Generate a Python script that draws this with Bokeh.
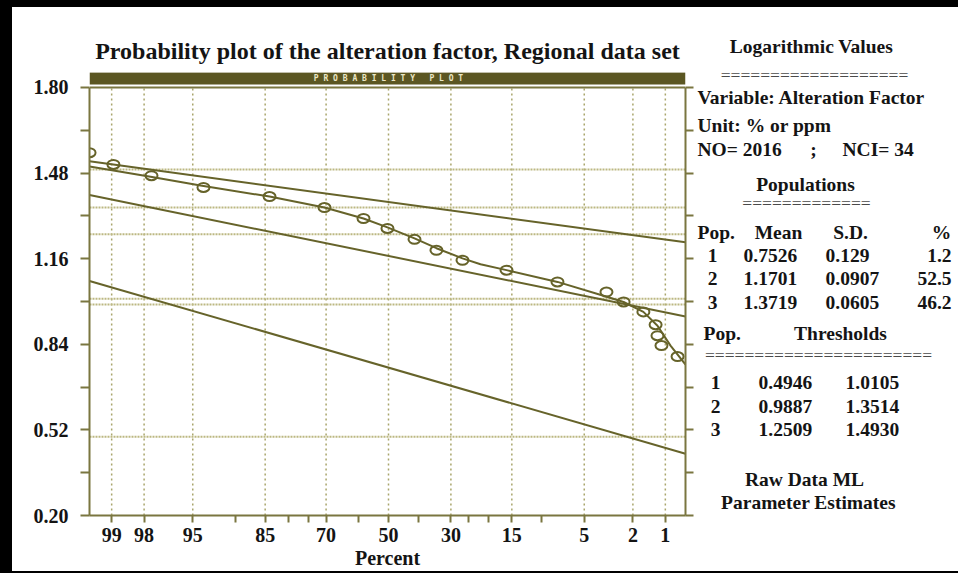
from statistics import NormalDist

from bokeh.embed import file_html
from bokeh.layouts import column, row
from bokeh.models import (CustomJSTickFormatter, Div, FixedTicker, Label,
                          LinearAxis, PrintfTickFormatter, Range1d, Span)
from bokeh.plotting import figure
from bokeh.resources import INLINE

# ---------------------------------------------------------------------------
# Data: alteration factor (log values), regional data set
# ---------------------------------------------------------------------------
tick_pct = [99, 98, 95, 85, 70, 50, 30, 15, 5, 2, 1]
minor_pct = [90, 80, 75, 60, 40, 25, 20, 10]
y_major = [0.20, 0.52, 0.84, 1.16, 1.48, 1.80]
y_minor = [0.36, 0.68, 1.00, 1.32, 1.64]

pop_id = [1, 2, 3]
pop_mean = [0.7526, 1.1701, 1.3719]
pop_sd = [0.129, 0.0907, 0.0605]
pop_share = [1.2, 52.5, 46.2]
thr_low = [0.4946, 0.9887, 1.2509]
thr_high = [1.0105, 1.3514, 1.4930]

n_obs = 2016
n_class = 34

# cumulative percentages of the class intervals
obs_pct = [99.40, 98.96, 97.68, 94.00, 84.13, 70.47, 58.32, 50.34, 41.35, 34.35,
           26.70, 16.06, 7.78, 3.35, 2.41, 1.61, 1.24, 1.19, 1.09, 0.757]
obs_val = [1.556, 1.512, 1.470, 1.426, 1.392, 1.351, 1.310, 1.273, 1.232, 1.191,
           1.154, 1.117, 1.073, 1.035, 0.998, 0.961, 0.913, 0.872, 0.835, 0.794]

# fitted mixture curve
mix_pct = [99.40, 97.72, 94.29, 84.13, 70.47, 58.32, 50.34, 41.35, 34.35, 26.70,
           21.97, 16.06, 7.78, 3.54, 2.41, 1.61, 1.19, 0.89, 0.628]
mix_val = [1.504, 1.466, 1.433, 1.392, 1.351, 1.310, 1.277, 1.236, 1.199, 1.161,
           1.139, 1.117, 1.073, 1.021, 0.998, 0.961, 0.909, 0.835, 0.764]

# ---------------------------------------------------------------------------
# Probability axis: percentages are placed at their normal scores
# ---------------------------------------------------------------------------
ND = NormalDist()


def prob(p):
    return ND.inv_cdf(p / 100.0)


def X(px):
    """page x (pixels) -> probability-axis coordinate"""
    return (388.0 - px) / 119.0


def Y(py):
    """page y (pixels) -> value-axis coordinate"""
    return 0.2 + (518.0 - py) * 1.6 / 431.0


OLIVE = "#66632a"
AXIS = "#7a7640"
GRID = "#a9a56c"
THR = "#bcb882"
BAR = "#5b5622"
INK = "#141414"
SERIF = "Liberation Serif"
NBSP = "\u00a0"

x_lo, x_hi = X(89), X(685)

p = figure(width=683, height=564, output_backend="svg", toolbar_location=None,
           x_range=Range1d(x_lo, x_hi), y_range=Range1d(0.2, Y(72)),
           min_border_left=77, min_border_right=10, min_border_top=65,
           min_border_bottom=53,
           title="Probability plot of the alteration factor, Regional data set")
p.frame_align = False
p.outline_line_color = None
p.background_fill_color = "white"
p.border_fill_color = "white"
p.xgrid.visible = False
p.ygrid.visible = False

p.title.align = "center"
p.title.text_font = SERIF
p.title.text_font_size = "24px"
p.title.text_font_style = "bold"
p.title.text_color = INK
p.title.standoff = 18

# header band above the frame
p.quad(left=x_lo, right=x_hi, top=Y(71.7), bottom=Y(84), fill_color=BAR,
       line_color=None)
band_text = NBSP.join("PROBABILITY") + NBSP * 3 + NBSP.join("PLOT")
p.add_layout(Label(x=X(388), y=Y(77.8), text=band_text,
                   text_font="DejaVu Sans Mono", text_font_size="8px",
                   text_font_style="bold", text_color="#ebe7c6",
                   text_align="center", text_baseline="middle"))

# x axis (percent)
tick_x = [prob(v) for v in tick_pct]
minor_x = [prob(v) for v in minor_pct]
xa = p.xaxis[0]
xa.ticker = FixedTicker(ticks=tick_x, minor_ticks=minor_x)
xa.formatter = CustomJSTickFormatter(
    args=dict(pos=tick_x, names=[str(v) for v in tick_pct]),
    code="""
    let best = 0;
    for (let i = 0; i < pos.length; i++) {
        if (Math.abs(pos[i] - tick) < Math.abs(pos[best] - tick)) best = i;
    }
    return names[best];
""")
xa.axis_label = "Percent"
xa.axis_label_text_font = SERIF
xa.axis_label_text_font_size = "20px"
xa.axis_label_text_font_style = "bold"
xa.axis_label_text_color = INK
xa.axis_label_standoff = 2

# y axes
ya = p.yaxis[0]
ya.ticker = FixedTicker(ticks=y_major, minor_ticks=y_minor)
ya.formatter = PrintfTickFormatter(format="%.2f")
ya.bounds = (0.2, 1.8)
ra = LinearAxis(ticker=FixedTicker(ticks=y_major + y_minor), bounds=(0.2, 1.8))
p.add_layout(ra, "right")

for ax in (xa, ya, ra):
    ax.axis_line_color = AXIS
    ax.axis_line_width = 2
    ax.major_tick_line_color = AXIS
    ax.minor_tick_line_color = AXIS
    ax.major_tick_line_width = 2
    ax.minor_tick_line_width = 2
    ax.major_tick_in = 0
    ax.minor_tick_in = 0
    ax.major_label_text_font = SERIF
    ax.major_label_text_font_style = "bold"
    ax.major_label_text_font_size = "20px"
    ax.major_label_text_color = INK
xa.major_tick_out = 7
xa.minor_tick_out = 7
xa.major_label_standoff = 5
ya.major_tick_out = 9
ya.minor_tick_out = 9
ya.major_label_standoff = 12
ra.major_tick_out = 8
ra.major_label_text_font_size = "0px"
ra.major_label_text_alpha = 0

# top edge of the frame
p.add_layout(Span(location=1.8, dimension="width", line_color=AXIS, line_width=2))

# dotted percent grid
p.segment(x0=tick_x, y0=0.2, x1=tick_x, y1=1.8, line_color=GRID,
          line_width=1.5, line_dash="2 3")

# threshold lines
thr = thr_low + thr_high
p.segment(x0=x_lo, y0=thr, x1=x_hi, y1=thr, line_color=THR, line_width=2,
          line_dash="2 1")

# population lines: value = mean + sd * normal score
for m, s in zip(pop_mean, pop_sd):
    p.line([x_lo, x_hi], [m + s * x_lo, m + s * x_hi], line_color=OLIVE,
           line_width=2)

# mixture curve and class-interval points
p.line([prob(v) for v in mix_pct], mix_val, line_color=OLIVE, line_width=2)
p.ellipse(x=[prob(v) for v in obs_pct], y=obs_val, width=12, height=9,
          width_units="screen", height_units="screen", fill_color=None,
          line_color=OLIVE, line_width=2)

# ---------------------------------------------------------------------------
# Side panel with the parameter estimates (coordinates in page pixels)
# ---------------------------------------------------------------------------
q = figure(width=263, height=564, output_backend="svg", toolbar_location=None,
           x_range=Range1d(695, 958), y_range=Range1d(571, 7),
           x_axis_type=None, y_axis_type=None, min_border=0)
q.frame_align = False
q.outline_line_color = None
q.xgrid.visible = False
q.ygrid.visible = False
q.background_fill_color = "white"
q.border_fill_color = "white"


def note(text, px, py, align="left", size="19.5px", color=INK, style="bold"):
    q.add_layout(Label(x=px, y=py, text=text, text_font=SERIF,
                       text_font_size=size, text_font_style=style,
                       text_color=color, text_align=align,
                       text_baseline="alphabetic"))


RULE = "#4a4a4a"
note("Logarithmic Values", 811, 46, "center")
note("=" * 19, 814, 74, "center", "17.5px", RULE, "normal")
note("Variable: Alteration Factor", 697, 96.5)
note("Unit: % or ppm", 697, 125)
note(f"NO= {n_obs}", 697, 149.3)
note(";", 813, 149.3, "center")
note(f"NCI= {n_class}", 842, 149.3)
note("Populations", 805, 184.3, "center")
note("=" * 13, 806, 202.5, "center", "17.5px", RULE, "normal")
note("Pop.", 697, 231.7)
note("Mean", 778, 231.7, "center")
note("S.D.", 850, 231.7, "center")
note("%", 941, 231.7, "center")
row_base = [255, 278.3, 301.7]
for i, b in enumerate(row_base):
    note(str(pop_id[i]), 712, b, "center")
    note(f"{pop_mean[i]:.4f}", 743, b)
    note(f"{pop_sd[i]:g}", 825, b)
    note(f"{pop_share[i]:.1f}", 951, b, "right")
note("Pop.", 703, 332.7)
note("Thresholds", 840, 332.7, "center")
note("=" * 23, 818, 354.5, "center", "17.5px", RULE, "normal")
thr_base = [381.7, 405.5, 429.3]
for i, b in enumerate(thr_base):
    note(str(pop_id[i]), 715, b, "center")
    note(f"{thr_low[i]:.4f}", 758, b)
    note(f"{thr_high[i]:.4f}", 845, b)
note("Raw Data ML", 804, 479, "center")
note("Parameter Estimates", 808, 501.7, "center")

# black page edges
top_edge = Div(width=958, height=7, margin=0, styles={"background-color": "black"})
left_edge = Div(width=12, height=564, margin=0, styles={"background-color": "black"})
bottom_edge = Div(width=958, height=2, margin=0, styles={"background-color": "black"})
page = column(top_edge, row(left_edge, p, q, spacing=0), bottom_edge, spacing=0)

open("out.html", "w").write(file_html(page, INLINE))
